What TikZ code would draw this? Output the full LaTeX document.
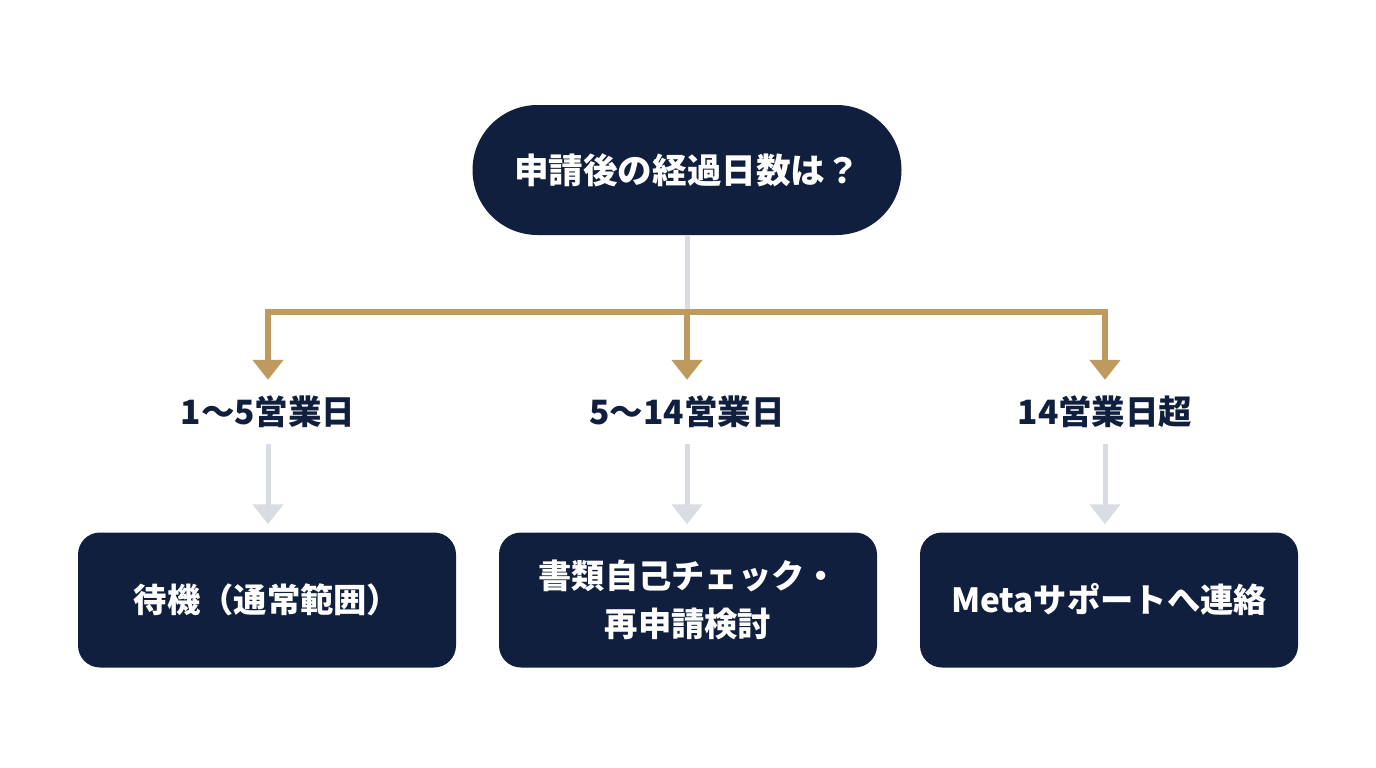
\documentclass[tikz,border=0pt]{standalone}
\usepackage{fontspec}
\usepackage{tikz}
\usetikzlibrary{arrows.meta,positioning}
\newfontfamily\jp{Noto Sans CJK JP}
\definecolor{navy1}{RGB}{16,31,61}
\definecolor{gold1}{RGB}{191,154,94}
\definecolor{gray1}{RGB}{217,220,227}

\begin{document}
\begin{tikzpicture}[x=1pt,y=-1pt,
  question/.style={fill=navy1,text=white,rounded corners=65pt,minimum width=429pt,minimum height=130pt,font=\jp\bfseries\fontsize{34.6}{40}\selectfont},
  result/.style={fill=navy1,text=white,rounded corners=22pt,minimum width=378pt,minimum height=135pt,align=center,font=\jp\bfseries\fontsize{33.3}{48}\selectfont},
  period/.style={text=navy1,minimum height=64pt,inner sep=0pt,font=\jp\bfseries\fontsize{33.5}{38}\selectfont},
  goldline/.style={gold1,line width=6pt,-{Triangle[width=30pt,length=20pt]}},
  grayline/.style={gray1,line width=5pt,-{Triangle[width=30pt,length=20pt]}}]
\useasboundingbox (0,0) rectangle (1376,768);
\node[question] (q) at (687,170){申請後の経過日数は？};
\coordinate (split) at (687,312);
\node[period] (p1) at (268,412){1〜5営業日};
\node[period] (p2) at (687,412){5〜14営業日};
\node[period] (p3) at (1105,412){14営業日超};
\node[result] (r1) at (267,600){待機（通常範囲）};
\node[result] (r2) at (688,600){書類自己チェック・\\再申請検討};
\node[result] (r3) at (1109,600){Metaサポートへ連絡};
% branches
\draw[gray1,line width=5pt] (q.south)--(split);
\draw[goldline] (split)-|(p1.north);
\draw[goldline] (split)--(p2.north);
\draw[goldline] (split)-|(p3.north);
\foreach \i in {1,2,3}
  \draw[grayline,shorten >=8pt] (p\i.south)--(p\i.south|-r\i.north);
\end{tikzpicture}
\end{document}
